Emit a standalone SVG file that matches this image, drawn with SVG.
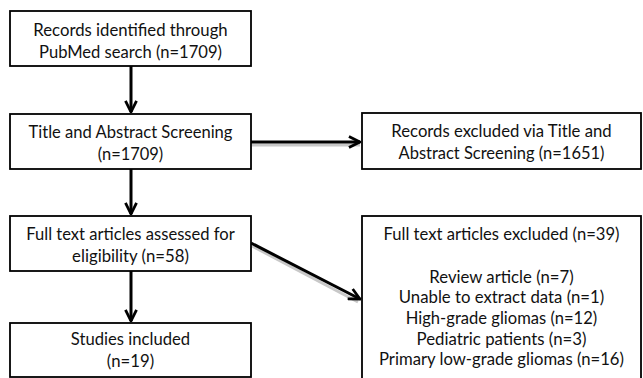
<svg xmlns="http://www.w3.org/2000/svg" width="643" height="378" viewBox="0 0 643 378">
<style>
.box{fill:#fff;stroke:#000;stroke-width:1.8}
.t{font-family:Lato,"Liberation Sans",sans-serif;font-size:17.5px;fill:#111;text-anchor:middle}
.ln{stroke:#000;stroke-width:3;fill:none}
.sh{stroke:#c8c8c8;stroke-width:3;fill:none}
</style>
<defs>
<marker id="ah" viewBox="0 0 10 10" refX="9" refY="5" markerWidth="4.6" markerHeight="4.6" orient="auto" markerUnits="strokeWidth">
<path d="M1,1 L9,5 L1,9" fill="none" stroke="#000" stroke-width="2"/>
</marker>
</defs>
<rect width="643" height="378" fill="#fff"/>
<g id="connectors">
<line class="sh" x1="252" y1="145" x2="360" y2="145"/>
<line class="sh" x1="252" y1="246" x2="358" y2="302"/>
<line class="ln" x1="131" y1="66" x2="131" y2="112" marker-end="url(#ah)"/>
<line class="ln" x1="131" y1="169" x2="131" y2="214" marker-end="url(#ah)"/>
<line class="ln" x1="131" y1="271" x2="131" y2="321" marker-end="url(#ah)"/>
<line class="ln" x1="251" y1="142" x2="360" y2="142" marker-end="url(#ah)"/>
<line class="ln" x1="251" y1="243" x2="360" y2="299" marker-end="url(#ah)"/>
</g>
<g id="n1"><rect class="box" x="10" y="11" width="241" height="55"/>
<text class="t" x="130.5" y="36" textLength="194.4" lengthAdjust="spacingAndGlyphs">Records identified through</text>
<text class="t" x="130.5" y="58" textLength="183" lengthAdjust="spacingAndGlyphs">PubMed search (n=1709)</text></g>
<g id="n2"><rect class="box" x="10" y="114" width="241" height="55"/>
<text class="t" x="130.5" y="138" textLength="204" lengthAdjust="spacingAndGlyphs">Title and Abstract Screening</text>
<text class="t" x="130.5" y="160" textLength="65.5" lengthAdjust="spacingAndGlyphs">(n=1709)</text></g>
<g id="n3"><rect class="box" x="10" y="216" width="241" height="55"/>
<text class="t" x="130.5" y="240" textLength="208.5" lengthAdjust="spacingAndGlyphs">Full text articles assessed for</text>
<text class="t" x="130.5" y="262" textLength="116.8" lengthAdjust="spacingAndGlyphs">eligibility (n=58)</text></g>
<g id="n4"><rect class="box" x="10" y="323" width="241" height="54"/>
<text class="t" x="130.5" y="345" textLength="119.3" lengthAdjust="spacingAndGlyphs">Studies included</text>
<text class="t" x="130.5" y="367" textLength="47.3" lengthAdjust="spacingAndGlyphs">(n=19)</text></g>
<g id="n5"><rect class="box" x="362" y="113" width="279" height="56"/>
<text class="t" x="501.5" y="137" textLength="220.3" lengthAdjust="spacingAndGlyphs">Records excluded via Title and</text>
<text class="t" x="501.5" y="159" textLength="205.9" lengthAdjust="spacingAndGlyphs">Abstract Screening (n=1651)</text></g>
<g id="n6"><rect class="box" x="362" y="216" width="279" height="170"/>
<text class="t" x="501.5" y="240" textLength="236" lengthAdjust="spacingAndGlyphs">Full text articles excluded (n=39)</text>
<text class="t" x="501.5" y="283" textLength="144.4" lengthAdjust="spacingAndGlyphs">Review article (n=7)</text>
<text class="t" x="501.5" y="303" textLength="205.5" lengthAdjust="spacingAndGlyphs">Unable to extract data (n=1)</text>
<text class="t" x="501.5" y="324" textLength="191.5" lengthAdjust="spacingAndGlyphs">High-grade gliomas (n=12)</text>
<text class="t" x="501.5" y="345" textLength="169.9" lengthAdjust="spacingAndGlyphs">Pediatric patients (n=3)</text>
<text class="t" x="501.5" y="365" textLength="245" lengthAdjust="spacingAndGlyphs">Primary low-grade gliomas (n=16)</text></g>
</svg>
